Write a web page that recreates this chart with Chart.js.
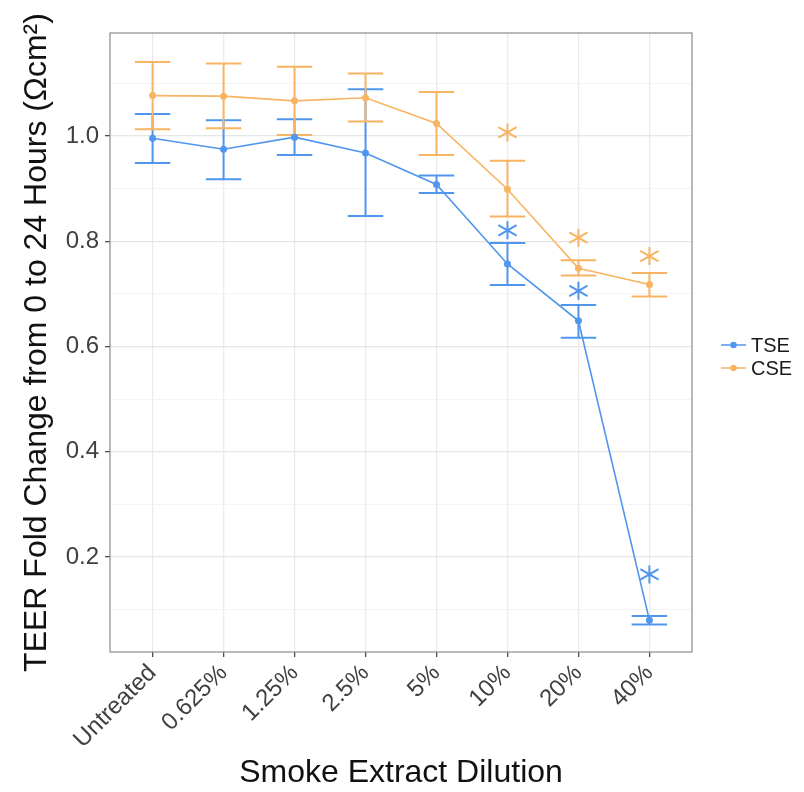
<!DOCTYPE html>
<html>
<head>
<meta charset="utf-8">
<script src="https://cdn.jsdelivr.net/npm/chart.js@4.4.1/dist/chart.umd.min.js"></script>
<style>
  html, body { margin: 0; padding: 0; background: #fff; }
  #wrap { width: 804px; height: 792px; }
</style>
</head>
<body>
<div id="wrap"><canvas id="teerChart" width="804" height="792"></canvas></div>
<script>
// dilutions on the x axis
const categories = ['Untreated', '0.625%', '1.25%', '2.5%', '5%', '10%', '20%', '40%'];

// TSE: mean fold change with upper / lower error limits
const tseMean  = [0.996, 0.975, 0.998, 0.968, 0.908, 0.757, 0.649, 0.080];
const tseUpper = [1.042, 1.030, 1.032, 1.089, 0.925, 0.797, 0.679, 0.088];
const tseLower = [0.949, 0.918, 0.964, 0.848, 0.892, 0.717, 0.617, 0.072];

// CSE: mean fold change with upper / lower error limits
const cseMean  = [1.077, 1.076, 1.067, 1.073, 1.024, 0.899, 0.749, 0.718];
const cseUpper = [1.141, 1.138, 1.132, 1.119, 1.084, 0.953, 0.764, 0.740];
const cseLower = [1.013, 1.015, 1.002, 1.028, 0.964, 0.847, 0.735, 0.695];

// significance markers (height of the asterisk), null = none
const tseStar = [null, null, null, null, null, 0.821, 0.706, 0.167];
const cseStar = [null, null, null, null, null, 1.007, 0.807, 0.772];

// y grid: labelled majors every 0.2, minors in between
const yTicks = [0.1, 0.2, 0.3, 0.4, 0.5, 0.6, 0.7, 0.8, 0.9, 1.0, 1.1];
const yLabelled = [0.2, 0.4, 0.6, 0.8, 1.0];

const BLUE = '#5096ee';
const ORANGE = '#f7b462';
const FONT = "'Liberation Sans', Arial, sans-serif";

const series = [
  { label: 'TSE', color: BLUE, mean: tseMean, upper: tseUpper, lower: tseLower, star: tseStar },
  { label: 'CSE', color: ORANGE, mean: cseMean, upper: cseUpper, lower: cseLower, star: cseStar }
];

const toPoints = arr => arr.map((v, i) => ({ x: i, y: v }));
const isLabelled = v => yLabelled.some(t => Math.abs(t - v) < 1e-6);

// error bars underneath the lines
const errorBars = {
  id: 'errorBars',
  beforeDatasetsDraw(chart) {
    const { ctx, scales: { x, y } } = chart;
    ctx.save();
    ctx.lineWidth = 2;
    series.forEach(s => {
      ctx.strokeStyle = s.color;
      s.mean.forEach((m, i) => {
        const px = x.getPixelForValue(i);
        const x0 = x.getPixelForValue(i - 0.25);
        const x1 = x.getPixelForValue(i + 0.25);
        const yu = y.getPixelForValue(s.upper[i]);
        const yl = y.getPixelForValue(s.lower[i]);
        ctx.beginPath();
        ctx.moveTo(px, yu); ctx.lineTo(px, yl);
        ctx.moveTo(x0, yu); ctx.lineTo(x1, yu);
        ctx.moveTo(x0, yl); ctx.lineTo(x1, yl);
        ctx.stroke();
      });
    });
    ctx.restore();
  }
};

// asterisks, panel border and the legend on the right
const extras = {
  id: 'extras',
  afterDraw(chart) {
    const { ctx, chartArea: a, scales: { x, y } } = chart;
    ctx.save();
    ctx.lineWidth = 2;
    series.forEach(s => {
      ctx.strokeStyle = s.color;
      s.star.forEach((v, i) => {
        if (v === null) return;
        const cx = x.getPixelForValue(i), cy = y.getPixelForValue(v);
        ctx.beginPath();
        for (let k = 0; k < 3; k++) {
          const ang = Math.PI / 2 + k * Math.PI / 3;
          const dx = Math.cos(ang), dy = Math.sin(ang);
          const r = k === 0 ? 9 : 10.5;
          ctx.moveTo(cx - dx * r, cy - dy * r);
          ctx.lineTo(cx + dx * r, cy + dy * r);
        }
        ctx.stroke();
      });
    });

    ctx.strokeStyle = '#8c8c8c';
    ctx.lineWidth = 1.2;
    ctx.strokeRect(a.left, a.top, a.right - a.left, a.bottom - a.top);

    ctx.font = '20px ' + FONT;
    ctx.textBaseline = 'middle';
    ctx.textAlign = 'left';
    series.forEach((s, k) => {
      const ly = 345 + k * 23;
      ctx.strokeStyle = s.color;
      ctx.fillStyle = s.color;
      ctx.lineWidth = 1.5;
      ctx.beginPath();
      ctx.moveTo(721, ly); ctx.lineTo(746, ly);
      ctx.stroke();
      ctx.beginPath();
      ctx.arc(733.5, ly, 3.2, 0, Math.PI * 2);
      ctx.fill();
      ctx.fillStyle = '#1a1a1a';
      ctx.fillText(s.label, 751, ly + 1);
    });
    ctx.restore();
  }
};

const whiteBg = {
  id: 'whiteBg',
  beforeDraw(chart) {
    const { ctx } = chart;
    ctx.save();
    ctx.fillStyle = '#fff';
    ctx.fillRect(0, 0, chart.width, chart.height);
    ctx.restore();
  }
};

const ctx = document.getElementById('teerChart').getContext('2d');
new Chart(ctx, {
  type: 'line',
  data: {
    datasets: series.map(s => ({
      label: s.label,
      data: toPoints(s.mean),
      borderColor: s.color,
      backgroundColor: s.color,
      borderWidth: 1.6,
      pointRadius: 3.5,
      pointHoverRadius: 3.5,
      pointBorderWidth: 0,
      tension: 0
    })).reverse()
  },
  options: {
    responsive: false,
    animation: false,
    layout: { padding: { top: 33, right: 112, left: 0, bottom: 0 } },
    plugins: {
      legend: { display: false },
      tooltip: { enabled: false }
    },
    scales: {
      x: {
        type: 'linear',
        min: -0.6,
        max: 7.6,
        afterBuildTicks: scale => { scale.ticks = categories.map((c, i) => ({ value: i })); },
        afterFit: scale => { scale.height = 140; },
        ticks: {
          callback: v => categories[v],
          minRotation: 45,
          maxRotation: 45,
          autoSkip: false,
          padding: 2,
          color: '#404040',
          font: { family: FONT, size: 24 }
        },
        grid: { color: '#ebebeb', lineWidth: 1.3, tickColor: '#4d4d4d', tickLength: 5 },
        border: { display: false },
        title: {
          display: true,
          text: 'Smoke Extract Dilution',
          color: '#111',
          font: { family: FONT, size: 32 },
          padding: { top: 0, bottom: 0 }
        }
      },
      y: {
        type: 'linear',
        min: 0.0195,
        max: 1.196,
        afterBuildTicks: scale => { scale.ticks = yTicks.map(v => ({ value: v })); },
        afterFit: scale => { scale.width = 110; },
        ticks: {
          callback: v => isLabelled(v) ? v.toFixed(1) : '',
          padding: 6,
          color: '#404040',
          font: { family: FONT, size: 24 }
        },
        grid: {
          color: c => isLabelled(c.tick.value) ? '#e6e6e6' : '#f3f3f3',
          lineWidth: c => isLabelled(c.tick.value) ? 1.3 : 0.9,
          tickColor: c => isLabelled(c.tick.value) ? '#4d4d4d' : 'rgba(0,0,0,0)',
          tickLength: 5
        },
        border: { display: false },
        title: {
          display: true,
          text: 'TEER Fold Change from 0 to 24 Hours (Ωcm²)',
          color: '#111',
          font: { family: FONT, size: 32 },
          padding: { top: 18, bottom: 0 }
        }
      }
    }
  },
  plugins: [whiteBg, errorBars, extras]
});
</script>
</body>
</html>
